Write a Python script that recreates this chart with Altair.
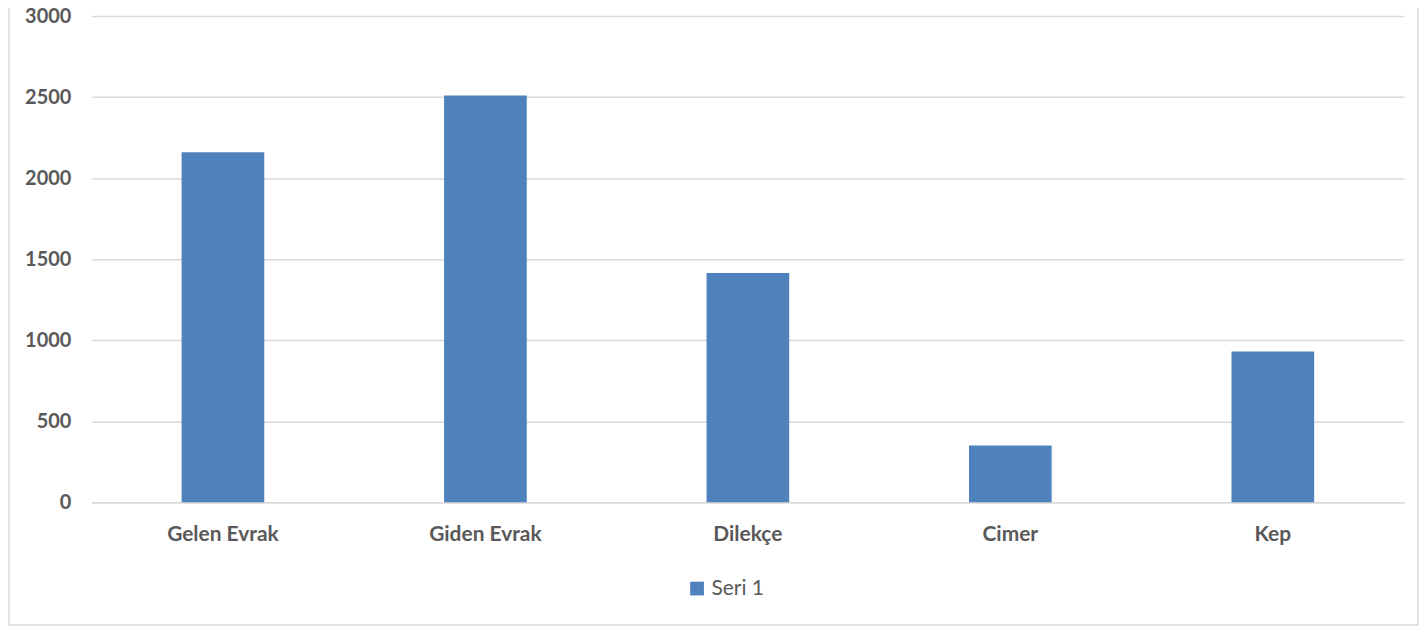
import altair as alt
import pandas as pd

categories = ["Gelen Evrak", "Giden Evrak", "Dilekçe", "Cimer", "Kep"]
values = [2160, 2510, 1415, 350, 930]
series = ["Seri 1"] * 5

df = pd.DataFrame({"kategori": categories, "deger": values, "seri": series})

W, H = 1317, 488

bars = alt.Chart(df).mark_bar(color="#4F81BD").encode(
    x=alt.X("kategori:N", sort=categories,
            scale=alt.Scale(paddingInner=0.685, paddingOuter=0.3425),
            axis=alt.Axis(title=None, labelAngle=0, labelFont="Lato", labelFontWeight="bold",
                          labelFontSize=21, labelColor="#595959", labelPadding=21,
                          ticks=False, domain=True, domainColor="#D9D9D9", domainWidth=1.5,
                          grid=False)),
    y=alt.Y("deger:Q", scale=alt.Scale(domain=[0, 3000]),
            axis=alt.Axis(title=None, values=[0, 500, 1000, 1500, 2000, 2500, 3000],
                          format="d",
                          labelFont="Lato", labelFontWeight="bold", labelFontSize=20,
                          labelColor="#595959", labelPadding=21, ticks=False, domain=False,
                          grid=True, gridColor="#D9D9D9", gridWidth=1.5)),
    color=alt.Color("seri:N", scale=alt.Scale(range=["#4F81BD"]),
                    legend=alt.Legend(title=None, orient="none", legendX=597, legendY=564,
                                      symbolType="square", symbolSize=190, symbolStrokeWidth=0,
                                      labelFont="Lato", labelFontSize=21, labelColor="#595959",
                                      labelOffset=4)),
)

border = alt.Chart(alt.Data(values=[{}])).mark_rect(
    fill=None, stroke="#D9D9D9", strokeWidth=1.5, clip=False
).encode(
    x=alt.value(-83), x2=alt.value(1331), y=alt.value(-30), y2=alt.value(611)
)

chart = alt.layer(border, bars).properties(
    width=W, height=H,
    autosize=alt.AutoSizeParams(type="none"),
    padding={"left": 84, "top": 7, "right": 15, "bottom": 125},
).configure_view(stroke=None)

chart.save("out.html", embed_options={"renderer": "svg", "actions": False})
